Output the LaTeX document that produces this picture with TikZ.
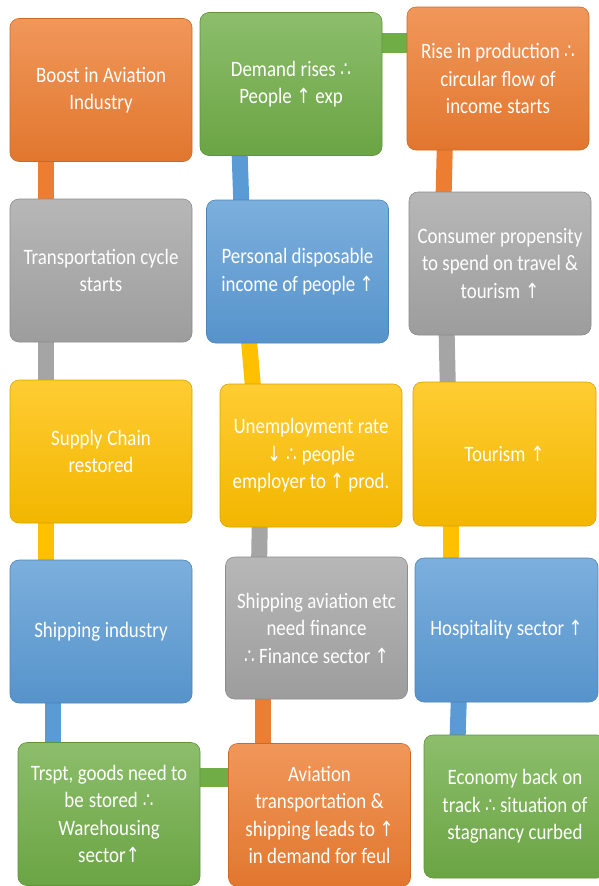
\documentclass[tikz,border=0pt]{standalone}
\usepackage{fontspec}
\setmainfont{Carlito}[FakeStretch=0.86]
\newfontfamily\symf{DejaVu Sans}[Scale=0.95,FakeStretch=0.8]
\usetikzlibrary{backgrounds}
\definecolor{cOr}{HTML}{ED7D31}
\definecolor{cGy}{HTML}{A5A5A5}
\definecolor{cYe}{HTML}{FFC000}
\definecolor{cBl}{HTML}{5B9BD5}
\definecolor{cGr}{HTML}{70AD47}
\newcommand\UpArr{{\symf ↑}}
\newcommand\DnArr{{\symf ↓}}
\newcommand\Thf{{\symf ∴}}
\newcommand\SetSpc{\spaceskip=4pt plus 1pt minus 1pt\relax}
\tikzset{
  box/.style={rounded corners=9pt, minimum width=182pt, minimum height=143pt,
    inner sep=2pt, text width=178pt, align=center, text=white,
    font=\fontsize{22}{27.5}\selectfont, execute at begin node=\SetSpc,
    draw=#1!85!black, line width=0.6pt,
    top color=#1!80!white, bottom color=#1!95!black},
  conn/.style={draw=#1, line width=16pt, shorten <=-3pt, shorten >=-3pt}
}
\begin{document}
\begin{tikzpicture}[x=1pt,y=-1pt]
\useasboundingbox (0,0) rectangle (598,886);
\node[box=cOr] (A) at (101,90) {Boost in Aviation\\Industry};
\node[box=cGy] (B) at (101,270.5) {Transportation cycle\\starts};
\node[box=cYe] (C) at (101,451.5) {Supply Chain\\restored};
\node[box=cBl] (D) at (101,631.5) {Shipping industry};
\node[box=cGr] (E) at (109,814) {Trspt, goods need to\\be stored \Thf\\Warehousing\\sector\UpArr};
\node[box=cGr] (F) at (291,84) {Demand rises \Thf\\People \UpArr{} exp};
\node[box=cBl, minimum width=181pt] (G) at (297.5,271.5) {Personal disposable\\income of people \UpArr};
\node[box=cYe] (H) at (311,455.5) {Unemployment rate\\\DnArr{} \Thf{} people\\employer to \UpArr{} prod.};
\node[box=cGy, minimum height=142pt] (I) at (316.5,628) {Shipping aviation etc\\need finance\\\Thf{} Finance sector \UpArr};
\node[box=cOr] (J) at (319.5,815) {Aviation\\transportation \&\\shipping leads to \UpArr\\in demand for feul};
\node[box=cOr] (K) at (498,78.5) {Rise in production \Thf\\circular flow of\\income starts};
\node[box=cGy, minimum width=180pt] (L) at (500,263.5) {Consumer propensity\\to spend on travel \&\\tourism \UpArr};
\node[box=cYe, minimum width=183pt, minimum height=144pt] (M) at (504.5,454) {Tourism \UpArr};
\node[box=cBl, minimum width=183pt, minimum height=144pt] (N) at (506.5,630) {Hospitality sector \UpArr};
\node[box=cGr, minimum width=180pt] (O) at (515,806.5) {Economy back on\\track \Thf{} situation of\\stagnancy curbed};
\begin{pgfonlayer}{background}
\draw[conn=cOr] ([xshift=36pt]A.south west) -- ([xshift=36pt]B.north west);
\draw[conn=cGy] ([xshift=36pt]B.south west) -- ([xshift=36pt]C.north west);
\draw[conn=cYe] ([xshift=36pt]C.south west) -- ([xshift=36pt]D.north west);
\draw[conn=cBl] ([xshift=43pt]D.south west) -- ([xshift=35pt]E.north west);
\draw[conn=cGr, line width=19pt] ([yshift=37pt]E.east) -- ([yshift=38pt]J.west);
\draw[conn=cOr] ([xshift=38pt]I.south west) -- ([xshift=35pt]J.north west);
\draw[conn=cGy] ([xshift=40pt]H.south west) -- ([xshift=34pt]I.north west);
\draw[conn=cYe] ([xshift=43pt]G.south west) -- ([xshift=33pt]H.north west);
\draw[conn=cBl] ([xshift=40pt]F.south west) -- ([xshift=35pt]G.north west);
\draw[conn=cGr, line width=20pt] ([yshift=41pt]F.east) -- ([yshift=35.5pt]K.west);
\draw[conn=cOr] ([xshift=38pt]K.south west) -- ([xshift=35pt]L.north west);
\draw[conn=cGy] ([xshift=38pt]L.south west) -- ([xshift=35pt]M.north west);
\draw[conn=cYe] ([xshift=38pt]M.south west) -- ([xshift=36pt]N.north west);
\draw[conn=cBl] ([xshift=44pt]N.south west) -- ([xshift=34pt]O.north west);
\end{pgfonlayer}
\end{tikzpicture}
\end{document}
